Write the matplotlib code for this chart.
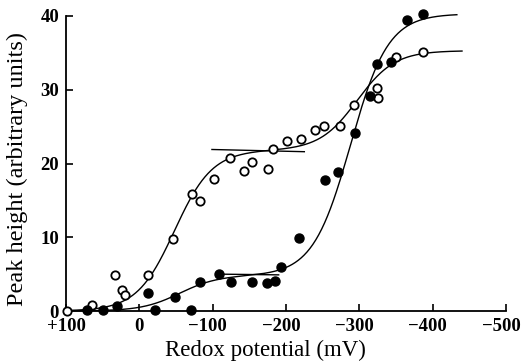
import numpy as np
import matplotlib
matplotlib.use("Agg")
import matplotlib.pyplot as plt
from matplotlib.transforms import ScaledTranslation

plt.rcParams['font.family'] = ['Liberation Serif', 'DejaVu Serif']

# open circles
open_x = [99, 64, 33, 24, 19.5, -12, -45.5, -72, -83, -102, -123, -143, -153,
          -176, -182, -201, -220, -239, -252, -273, -293, -324, -325, -350, -387]
open_y = [0, 0.8, 4.9, 2.85, 2.2, 4.9, 9.8, 15.9, 14.9, 17.9, 20.8, 19.0, 20.2,
          19.2, 22.0, 23.1, 23.3, 24.5, 25.1, 25.1, 28.0, 30.2, 28.9, 34.4, 35.1]

# filled circles
filled_x = [72, 50, 31, -12, -21, -49, -70.5, -83, -109, -125, -153, -174, -185,
            -193, -218, -253, -271, -294, -315, -324, -343, -365, -387]
filled_y = [0.1, 0.2, 0.7, 2.4, 0.2, 1.9, 0.2, 4.0, 5.0, 4.0, 3.9, 3.85, 4.1,
            5.9, 9.9, 17.8, 18.9, 24.1, 29.1, 33.5, 33.8, 39.5, 40.3]

# two-component Nernst fits (n = 1)
open_fit = dict(a1=21.8, e1=-48, a2=13.5, e2=-297, end=-440)
filled_fit = dict(a1=4.8, e1=-55, a2=35.5, e2=-288, end=-433)
RT_F = 25.7

# plateau lines of the first components
open_plateau_x = [-99, -225]
open_plateau_y = [21.9, 21.6]
filled_plateau_x = [-107, -190]
filled_plateau_y = [5.0, 4.9]

x_ticks = [100, 0, -100, -200, -300, -400, -500]
x_ticklabels = ['+100', '0', '\u2212100', '\u2212200', '\u2212300', '\u2212400', '\u2212500']
y_ticks = [0, 10, 20, 30, 40]


def nernst(p):
    e = np.linspace(100, p['end'], 400)
    v = p['a1'] / (1 + np.exp((e - p['e1']) / RT_F)) + p['a2'] / (1 + np.exp((e - p['e2']) / RT_F))
    return e, v


fig = plt.figure(figsize=(5.21, 3.61), dpi=100)
ax = fig.add_axes([66 / 521, 50 / 361, 440 / 521, 295 / 361])

for p in (open_fit, filled_fit):
    e, v = nernst(p)
    ax.plot(e, v, color='black', lw=1.0, clip_on=False)

ax.plot(open_plateau_x, open_plateau_y, color='black', lw=1.0)
ax.plot(filled_plateau_x, filled_plateau_y, color='black', lw=1.0)

ax.plot(open_x, open_y, 'o', ms=6, mfc='white', mec='black', mew=1.3, clip_on=False, zorder=3)
ax.plot(filled_x, filled_y, 'o', ms=6.5, mfc='black', mec='black', clip_on=False, zorder=3)

ax.set_xlim(100, -500)
ax.set_ylim(0, 40)
ax.spines['top'].set_visible(False)
ax.spines['right'].set_visible(False)
for s in ('left', 'bottom'):
    ax.spines[s].set_linewidth(1.3)

ax.set_xticks(x_ticks)
ax.set_xticklabels(x_ticklabels)
ax.set_yticks(y_ticks)
ax.tick_params(direction='in', length=5, width=1.2, labelsize=13.5)
ax.tick_params(axis='y', pad=5)
ax.tick_params(axis='x', pad=5)
for lab in ax.get_xticklabels() + ax.get_yticklabels():
    lab.set_fontweight('bold')
# the digits sit centred on the tick, the minus sign hangs to the left
shift = ScaledTranslation(-5 / 100, 0, fig.dpi_scale_trans)
for lab in ax.get_xticklabels():
    if lab.get_text().startswith('\u2212'):
        lab.set_transform(lab.get_transform() + shift)

ax.set_xlabel('Redox potential (mV)', fontsize=16.5)
ax.set_ylabel('Peak height (arbitrary units)', fontsize=17.5)
ax.xaxis.set_label_coords((265 - 66) / 440, -(350 - 311) / 295)
ax.yaxis.set_label_coords(-(66 - 17) / 440, (311 - 168.5) / 295)
ax.xaxis.label.set_va('center')
ax.yaxis.label.set_va('center')

fig.savefig('out.png', dpi=100)
